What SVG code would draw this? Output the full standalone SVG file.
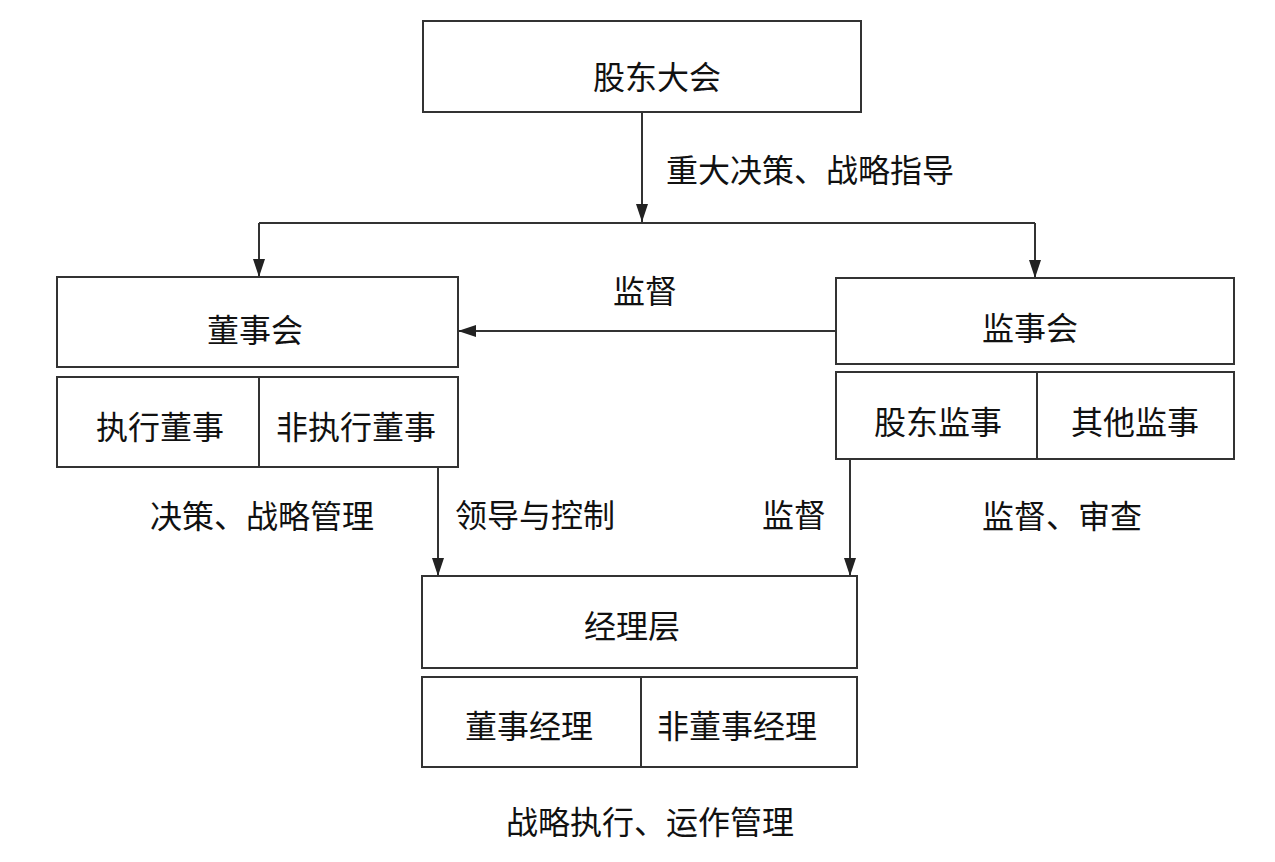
<svg xmlns="http://www.w3.org/2000/svg" width="1275" height="862" viewBox="0 0 1275 862">
<defs>
<marker id="arr" markerWidth="18" markerHeight="12" refX="18" refY="6" orient="auto" markerUnits="userSpaceOnUse" viewBox="0 0 18 12">
<path d="M0,0 L18,6 L0,12 Z" fill="#222"/>
</marker>
<style>
rect{fill:#fff;stroke:#333;stroke-width:2}
.ln{stroke:#333;stroke-width:2;fill:none}
text{font-family:"Noto Sans CJK SC","Noto Sans",sans-serif;font-size:32px;fill:#111;text-anchor:middle;dominant-baseline:central}
</style>
</defs>
<rect width="1275" height="862" style="fill:#fff;stroke:none"/>
<g id="connectors">
<line class="ln" x1="642" y1="112" x2="642" y2="222" marker-end="url(#arr)"/>
<line class="ln" x1="259" y1="223" x2="1035" y2="223"/>
<line class="ln" x1="259" y1="223" x2="259" y2="277" marker-end="url(#arr)"/>
<line class="ln" x1="1035" y1="223" x2="1035" y2="278" marker-end="url(#arr)"/>
<line class="ln" x1="836" y1="331" x2="458" y2="331" marker-end="url(#arr)"/>
<line class="ln" x1="438" y1="467" x2="438" y2="576" marker-end="url(#arr)"/>
<line class="ln" x1="850" y1="459" x2="850" y2="576" marker-end="url(#arr)"/>
<text x="810" y="168">重大决策、战略指导</text>
<text x="645" y="289">监督</text>
<text x="535" y="513">领导与控制</text>
<text x="794" y="513">监督</text>
</g>
<g id="gudong">
<rect x="423" y="21" width="438" height="91"/>
<text x="657" y="75">股东大会</text>
</g>
<g id="dongshihui">
<rect x="57" y="277" width="401" height="90"/>
<text x="255" y="328">董事会</text>
<rect x="57" y="377" width="401" height="90"/>
<line class="ln" x1="259" y1="377" x2="259" y2="467"/>
<text x="160" y="425">执行董事</text>
<text x="356" y="425">非执行董事</text>
<text x="262" y="514">决策、战略管理</text>
</g>
<g id="jianshihui">
<rect x="836" y="278" width="398" height="86"/>
<text x="1030" y="326">监事会</text>
<rect x="836" y="372" width="398" height="87"/>
<line class="ln" x1="1037" y1="372" x2="1037" y2="459"/>
<text x="938" y="420">股东监事</text>
<text x="1135" y="420">其他监事</text>
<text x="1062" y="514">监督、审查</text>
</g>
<g id="jingliceng">
<rect x="422" y="576" width="435" height="92"/>
<text x="632" y="624">经理层</text>
<rect x="422" y="677" width="435" height="90"/>
<line class="ln" x1="641" y1="677" x2="641" y2="767"/>
<text x="529" y="724">董事经理</text>
<text x="737" y="724">非董事经理</text>
<text x="650" y="820">战略执行、运作管理</text>
</g>
</svg>
